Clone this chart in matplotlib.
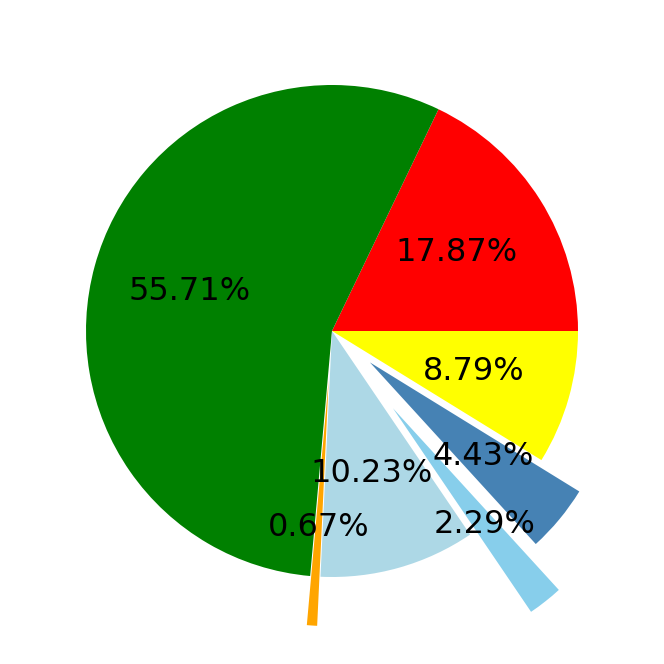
import matplotlib
matplotlib.use("Agg")
import matplotlib.pyplot as plt

labels = ["A", "B", "C", "D", "E", "F", "G"]
values = [17.87, 55.70, 0.67, 10.23, 2.29, 4.43, 8.79]
colors = ["red", "green", "orange", "lightblue", "skyblue", "steelblue", "yellow"]
explode = [0, 0, 0.2, 0, 0.4, 0.2, 0]

fig = plt.figure(figsize=(6.64, 6.64), dpi=100)
ax = fig.add_axes([24.5 / 664, (333 - 307.5) / 664, 615 / 664, 615 / 664])
ax.pie(values, colors=colors, explode=explode, autopct="%.2f%%",
       startangle=0, textprops={"fontsize": 23})
ax.set_xlim(-1.25, 1.25)
ax.set_ylim(-1.25, 1.25)
ax.set_aspect("equal")
fig.savefig("out.png", dpi=100)
